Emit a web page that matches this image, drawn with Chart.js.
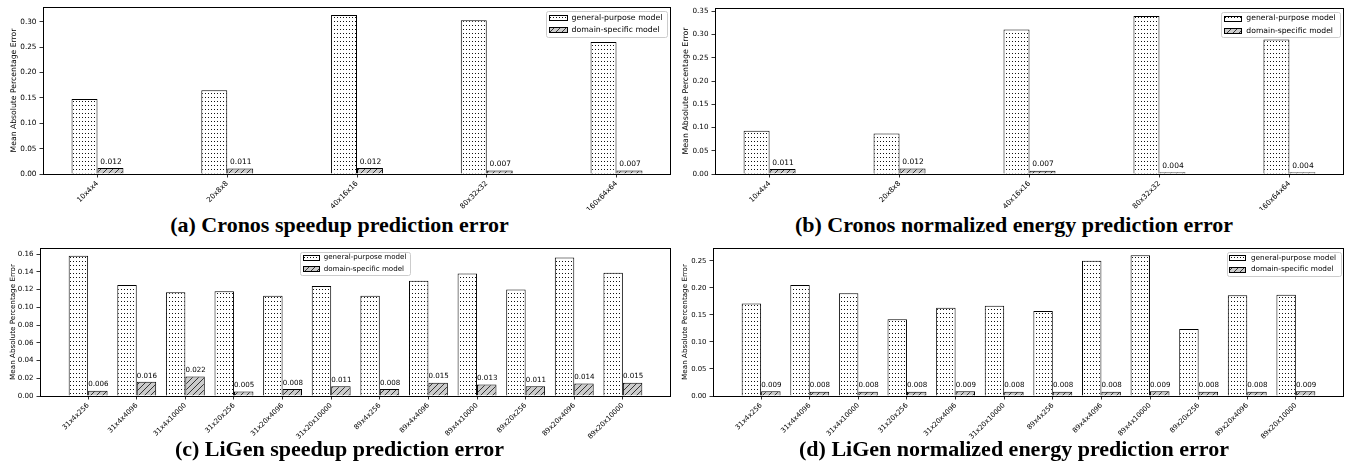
<!DOCTYPE html>
<html lang="en">
  <head>
    <meta charset="UTF-8" />
    <title>Prediction error</title>
    <script src="https://cdn.jsdelivr.net/npm/chart.js"></script>
    <style>
      body {
        margin: 0;
        width: 1346px;
        height: 465px;
        background: #fff;
        position: relative;
        overflow: hidden;
      }
      canvas {
        position: absolute;
      }
      .caption {
        position: absolute;
        text-align: center;
        font-family: 'Liberation Serif', serif;
        font-weight: bold;
        font-size: 22px;
        line-height: 22px;
        color: #000;
        white-space: nowrap;
      }
    </style>
  </head>
  <body>
    <canvas id="chartA" width="672" height="210"></canvas>
    <canvas id="chartB" width="674" height="210"></canvas>
    <canvas id="chartC" width="672" height="205"></canvas>
    <canvas id="chartD" width="674" height="205"></canvas>

    <div class="caption" style="left: 0; width: 679px; top: 214px">(a) Cronos speedup prediction error</div>
    <div class="caption" style="left: 680px; width: 668px; top: 214px">(b) Cronos normalized energy prediction error</div>
    <div class="caption" style="left: 0; width: 679px; top: 438px">(c) LiGen speedup prediction error</div>
    <div class="caption" style="left: 680px; width: 668px; top: 438px">(d) LiGen normalized energy prediction error</div>

    <script>
      // категории
      const cronosCats = ['10x4x4', '20x8x8', '40x16x16', '80x32x32', '160x64x64']
      const ligenCats = [
        '31x4x256', '31x4x4096', '31x4x10000', '31x20x256', '31x20x4096', '31x20x10000',
        '89x4x256', '89x4x4096', '89x4x10000', '89x20x256', '89x20x4096', '89x20x10000',
      ]

      // значения
      const cronosSpeedupGeneral = [0.148, 0.165, 0.313, 0.303, 0.26]
      const cronosSpeedupDomain = [0.012, 0.011, 0.012, 0.007, 0.007]
      const cronosEnergyGeneral = [0.093, 0.087, 0.311, 0.34, 0.289]
      const cronosEnergyDomain = [0.011, 0.012, 0.007, 0.004, 0.004]
      const ligenSpeedupGeneral = [0.158, 0.125, 0.117, 0.118, 0.113, 0.124, 0.113, 0.13, 0.138, 0.12, 0.156, 0.139]
      const ligenSpeedupDomain = [0.006, 0.016, 0.022, 0.005, 0.008, 0.011, 0.008, 0.015, 0.013, 0.011, 0.014, 0.015]
      const ligenEnergyGeneral = [0.171, 0.205, 0.19, 0.142, 0.163, 0.167, 0.157, 0.25, 0.26, 0.124, 0.186, 0.187]
      const ligenEnergyDomain = [0.009, 0.008, 0.008, 0.008, 0.009, 0.008, 0.008, 0.008, 0.009, 0.008, 0.008, 0.009]

      // деления оси Y
      const ticksA = [0, 0.05, 0.1, 0.15, 0.2, 0.25, 0.3]
      const ticksB = [0, 0.05, 0.1, 0.15, 0.2, 0.25, 0.3, 0.35]
      const ticksC = [0, 0.02, 0.04, 0.06, 0.08, 0.1, 0.12, 0.14, 0.16]
      const ticksD = [0, 0.05, 0.1, 0.15, 0.2, 0.25]

      const seriesNames = ['general-purpose model', 'domain-specific model']
      const yTitle = 'Mean Absolute Percentage Error'
      const FONT = 'DejaVu Sans'

      function dotPattern() {
        const c = document.createElement('canvas')
        c.width = 3
        c.height = 4
        const g = c.getContext('2d')
        g.fillStyle = '#fff'
        g.fillRect(0, 0, 3, 4)
        g.fillStyle = '#111'
        g.fillRect(1, 1, 1, 1)
        return g.createPattern(c, 'repeat')
      }

      function hatchPattern() {
        const s = 6
        const c = document.createElement('canvas')
        c.width = s
        c.height = s
        const g = c.getContext('2d')
        g.fillStyle = '#cccccc'
        g.fillRect(0, 0, s, s)
        g.strokeStyle = '#333'
        g.lineWidth = 1
        g.beginPath()
        g.moveTo(0, s)
        g.lineTo(s, 0)
        g.moveTo(-1, 1)
        g.lineTo(1, -1)
        g.moveTo(s - 1, s + 1)
        g.lineTo(s + 1, s - 1)
        g.stroke()
        return g.createPattern(c, 'repeat')
      }

      const dots = dotPattern()
      const hatch = hatchPattern()

      // рамка вокруг области графика
      const framePlugin = {
        id: 'frame',
        afterDatasetsDraw(chart) {
          const { ctx, chartArea: a } = chart
          ctx.save()
          ctx.strokeStyle = '#000'
          ctx.lineWidth = 1
          const l = Math.round(a.left) + 0.5
          const t = Math.round(a.top) + 0.5
          ctx.strokeRect(l, t, Math.round(a.right) - Math.round(a.left) - 1, Math.round(a.bottom) - Math.round(a.top))
          ctx.restore()
        },
      }

      // подписи над столбцами domain-specific
      const valuePlugin = {
        id: 'valueLabels',
        afterDatasetsDraw(chart, args, opts) {
          const { ctx } = chart
          const meta = chart.getDatasetMeta(1)
          const ds = chart.data.datasets[1]
          ctx.save()
          ctx.font = `${opts.size}px "${FONT}"`
          ctx.fillStyle = '#000'
          ctx.textAlign = 'center'
          ctx.textBaseline = 'bottom'
          meta.data.forEach((bar, i) => {
            ctx.fillText(ds.data[i].y.toFixed(3), bar.x + 0.5, bar.y - 2.5)
          })
          ctx.restore()
        },
      }

      // легенда внутри области графика
      const legendPlugin = {
        id: 'boxLegend',
        afterDraw(chart, args, opts) {
          const { ctx, chartArea: a } = chart
          const fs = opts.size
          const items = chart.data.datasets
          ctx.save()
          ctx.font = `${fs}px "${FONT}"`
          const textW = Math.max(...items.map((d) => ctx.measureText(d.label).width))
          const padL = 0.35 * fs
          const handleW = 2.25 * fs
          const handleH = 0.7 * fs
          const gap = 0.7 * fs
          const padR = 0.6 * fs
          const w = padL + handleW + gap + textW + padR
          const h = 3.3 * fs
          const off = 0.5 * fs
          const top = a.top + off
          const left = opts.loc === 'center' ? (a.left + a.right) / 2 - w / 2 : a.right - off - w
          ctx.fillStyle = 'rgba(255,255,255,0.8)'
          ctx.strokeStyle = '#cccccc'
          ctx.lineWidth = 1
          ctx.beginPath()
          ctx.roundRect(Math.round(left) + 0.5, Math.round(top) + 0.5, Math.round(w), Math.round(h), 2)
          ctx.fill()
          ctx.stroke()
          items.forEach((d, i) => {
            const cy = top + 0.85 * fs + i * 1.6 * fs
            const sx = Math.round(left + padL) + 0.5
            const sy = Math.round(cy - handleH / 2) + 0.5
            ctx.fillStyle = d.backgroundColor
            ctx.fillRect(sx, sy, Math.round(handleW), Math.round(handleH))
            ctx.strokeStyle = '#000'
            ctx.strokeRect(sx, sy, Math.round(handleW), Math.round(handleH))
            ctx.fillStyle = '#000'
            ctx.textBaseline = 'middle'
            ctx.textAlign = 'left'
            ctx.fillText(d.label, left + padL + handleW + gap, cy)
          })
          ctx.restore()
        },
      }

      function makeChart(id, cfg) {
        const canvas = document.getElementById(id)
        canvas.style.left = cfg.box.left + 'px'
        canvas.style.top = cfg.box.top + 'px'
        const yW = cfg.plot.left - cfg.box.left
        const xH = cfg.box.top + canvas.height - cfg.plot.bottom
        const zeroPad = (s) => {
          s.paddingLeft = 0
          s.paddingRight = 0
          s.paddingTop = 0
          s.paddingBottom = 0
        }
        const toPoints = (arr) => arr.map((v, i) => ({ x: i, y: v }))

        return new Chart(canvas, {
          type: 'bar',
          data: {
            datasets: [
              {
                label: seriesNames[0],
                data: toPoints(cfg.general),
                backgroundColor: dots,
                borderColor: '#000',
                borderWidth: 1,
              },
              {
                label: seriesNames[1],
                data: toPoints(cfg.domain),
                backgroundColor: hatch,
                borderColor: '#000',
                borderWidth: 1,
              },
            ],
          },
          plugins: [framePlugin, valuePlugin, legendPlugin],
          options: {
            responsive: false,
            animation: false,
            devicePixelRatio: 1,
            events: [],
            categoryPercentage: cfg.groupWidth,
            barPercentage: 1,
            layout: {
              padding: {
                left: 0,
                top: cfg.plot.top - cfg.box.top,
                right: cfg.box.left + canvas.width - cfg.plot.right,
                bottom: 0,
              },
            },
            plugins: {
              legend: { display: false },
              tooltip: { enabled: false },
              valueLabels: { size: cfg.valueSize },
              boxLegend: { size: cfg.legendSize, loc: cfg.legendLoc },
            },
            scales: {
              x: {
                type: 'linear',
                bounds: 'data',
                offset: false,
                min: cfg.xMin,
                max: cfg.xMax,
                afterBuildTicks: (s) => {
                  s.ticks = cfg.cats.map((c, i) => ({ value: i }))
                },
                afterFit: (s) => {
                  s.height = xH
                  zeroPad(s)
                },
                ticks: {
                  autoSkip: false,
                  minRotation: 45,
                  maxRotation: 45,
                  padding: 2,
                  color: '#000',
                  font: { family: FONT, size: cfg.xTickSize },
                  callback: (v) => cfg.cats[v],
                },
                grid: { offset: false, drawOnChartArea: false, tickLength: 3.5, color: '#000', lineWidth: 0.8 },
                border: { display: false },
              },
              y: {
                type: 'linear',
                bounds: 'data',
                min: 0,
                max: cfg.yMax,
                afterBuildTicks: (s) => {
                  s.ticks = cfg.yTicks.map((v) => ({ value: v }))
                },
                afterFit: (s) => {
                  s.width = yW
                  zeroPad(s)
                },
                ticks: {
                  padding: 3,
                  color: '#000',
                  font: { family: FONT, size: cfg.yTickSize },
                  callback: (v) => v.toFixed(2),
                },
                grid: { drawOnChartArea: false, tickLength: 3.5, color: '#000', lineWidth: 0.8 },
                border: { display: false },
                title: {
                  display: true,
                  text: yTitle,
                  color: '#000',
                  font: { family: FONT, size: cfg.titleSize },
                  padding: { top: 9, bottom: 0 },
                },
              },
            },
          },
        })
      }

      makeChart('chartA', {
        box: { left: 0, top: 0 },
        plot: { left: 43, top: 7, right: 671, bottom: 174 },
        cats: cronosCats,
        general: cronosSpeedupGeneral,
        domain: cronosSpeedupDomain,
        yTicks: ticksA,
        yMax: 0.329,
        xMin: -0.42,
        xMax: 4.42,
        groupWidth: 0.4,
        xTickSize: 7.2,
        yTickSize: 7.3,
        titleSize: 7.7,
        valueSize: 7.5,
        legendSize: 7.8,
        legendLoc: 'right',
      })

      makeChart('chartB', {
        box: { left: 672, top: 0 },
        plot: { left: 715, top: 8, right: 1344, bottom: 174 },
        cats: cronosCats,
        general: cronosEnergyGeneral,
        domain: cronosEnergyDomain,
        yTicks: ticksB,
        yMax: 0.357,
        xMin: -0.42,
        xMax: 4.42,
        groupWidth: 0.4,
        xTickSize: 7.2,
        yTickSize: 7.2,
        titleSize: 7.9,
        valueSize: 7.5,
        legendSize: 7.66,
        legendLoc: 'right',
      })

      makeChart('chartC', {
        box: { left: 0, top: 240 },
        plot: { left: 40, top: 248, right: 671, bottom: 396 },
        cats: ligenCats,
        general: ligenSpeedupGeneral,
        domain: ligenSpeedupDomain,
        yTicks: ticksC,
        yMax: 0.1668,
        xMin: -0.99,
        xMax: 11.99,
        groupWidth: 0.8,
        xTickSize: 6.9,
        yTickSize: 7.1,
        titleSize: 7.2,
        valueSize: 7.1,
        legendSize: 7.1,
        legendLoc: 'center',
      })

      makeChart('chartD', {
        box: { left: 672, top: 240 },
        plot: { left: 713, top: 248, right: 1344, bottom: 396 },
        cats: ligenCats,
        general: ligenEnergyGeneral,
        domain: ligenEnergyDomain,
        yTicks: ticksD,
        yMax: 0.2735,
        xMin: -0.99,
        xMax: 11.99,
        groupWidth: 0.8,
        xTickSize: 6.9,
        yTickSize: 6.9,
        titleSize: 7.2,
        valueSize: 7.1,
        legendSize: 7.3,
        legendLoc: 'right',
      })
    </script>
  </body>
</html>
